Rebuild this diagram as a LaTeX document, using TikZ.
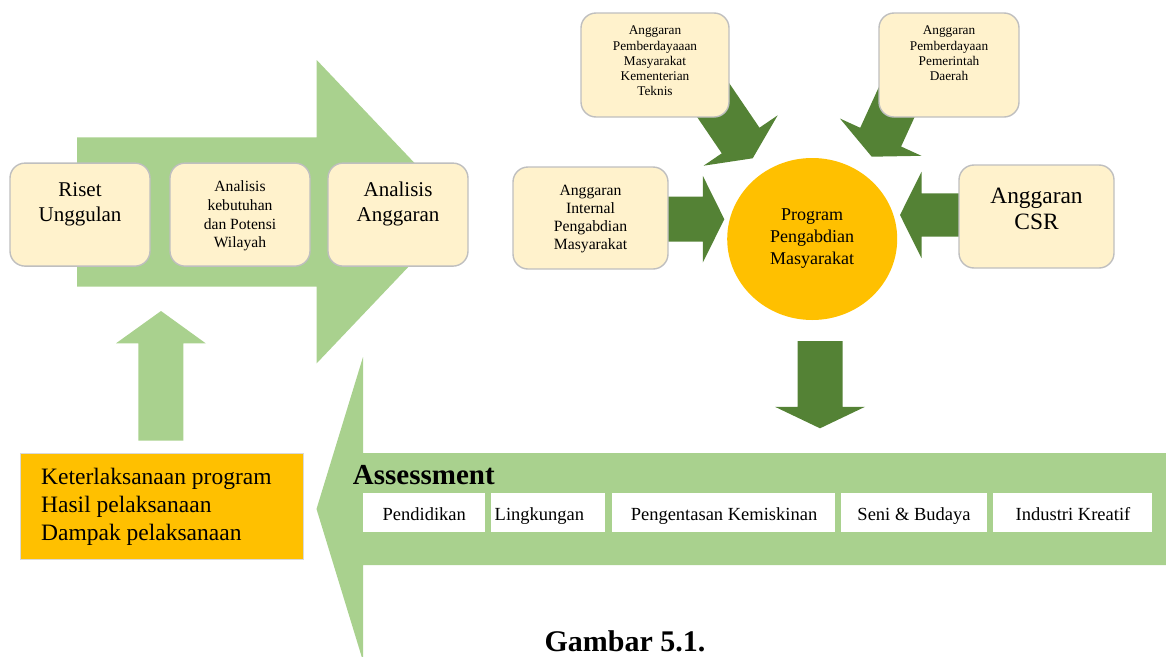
\documentclass[tikz,border=0pt]{standalone}
\usepackage{fontspec}
\setmainfont{Liberation Serif}
\usetikzlibrary{shapes.geometric}
\definecolor{lgreen}{HTML}{A9D18E}
\definecolor{dgreen}{HTML}{548235}
\definecolor{boxfill}{HTML}{FFF2CC}
\definecolor{boxline}{HTML}{BFBFBF}
\definecolor{amber}{HTML}{FFC000}
\definecolor{palegray}{HTML}{D9D9D9}
\newcommand\fsz[2]{\fontsize{#1}{#2}\selectfont}
% tip, angle, length, head half width, body half width
\newcommand\greenblock[5]{%
  \begin{scope}[shift={#1},rotate=#2]
    \fill[dgreen] (0,0) -- (-21.5,#4) -- (-21.5,#5) -- (-#3,#5) -- (-#3,-#5)
      -- (-21.5,-#5) -- (-21.5,-#4) -- cycle;
  \end{scope}}
\tikzset{
  rbox/.style={draw=boxline, line width=1.4pt, fill=boxfill, rounded corners=15pt, inner sep=0pt},
  wbox/.style={fill=white, inner sep=0pt, minimum height=39pt},
  txt/.style={align=center, inner sep=0pt, text=black},
}
\begin{document}
\begin{tikzpicture}[x=1pt,y=-1pt]
\useasboundingbox (0,0) rectangle (1166,656);
\clip (0,0) rectangle (1166,656);
% big light-green arrows
\fill[lgreen] (77,137.3) -- (316.7,137.3) -- (316.7,60) -- (460.8,211.7)
  -- (316.7,363.3) -- (316.7,286.7) -- (77,286.7) -- cycle;
\fill[lgreen] (1170,453) -- (363,453) -- (363,357) -- (316.5,509)
  -- (363,661) -- (363,565) -- (1170,565) -- cycle;
\fill[lgreen] (138.3,440.7) -- (138.3,343.3) -- (116,343.3) -- (161,311)
  -- (205.7,343.3) -- (183.3,343.3) -- (183.3,440.7) -- cycle;
% dark-green arrows
\greenblock{(752.7,158.3)}{-55.8}{100}{44.8}{22.8}
\greenblock{(871.7,156.7)}{-114.6}{100}{44.8}{22.5}
\greenblock{(724.3,219.2)}{0}{80}{43.4}{22.5}
\greenblock{(900,215)}{180}{80}{43.2}{21.7}
\greenblock{(820,428.3)}{-90}{87.3}{45}{22.5}
% top-left boxes
\node[rbox, minimum width=140pt, minimum height=103pt] (riset) at (80,214.6) {};
\node[rbox, minimum width=140pt, minimum height=103pt] (kebutuhan) at (240,214.6) {};
\node[rbox, minimum width=140pt, minimum height=103pt] (analisis) at (398,214.6) {};
\node[txt, font=\fsz{21}{25}] (risetT) at (80,204) {Riset\\Unggulan};
\node[txt, font=\fsz{15.6}{18.7}] (kebutuhanT) at (240,216) {Analisis\\kebutuhan\\dan Potensi\\Wilayah};
\node[txt, font=\fsz{21}{25}] (analisisT) at (398,204) {Analisis\\Anggaran};
% top-right boxes
\node[rbox, minimum width=148pt, minimum height=104pt] (kem) at (655,65) {};
\node[rbox, minimum width=140pt, minimum height=104pt] (pemda) at (949,65) {};
\node[rbox, minimum width=155pt, minimum height=102pt] (internal) at (590.5,218) {};
\node[rbox, minimum width=155pt, minimum height=103pt] (csr) at (1036.5,216.5) {};
\node[txt, font=\fsz{13.3}{15.3}] (kemT) at (655,61) {Anggaran\\Pemberdayaaan\\Masyarakat\\Kementerian\\Teknis};
\node[txt, font=\fsz{13.3}{15.3}] (pemdaT) at (949,53.5) {Anggaran\\Pemberdayaan\\Pemerintah\\Daerah};
\node[txt, font=\fsz{15.7}{18}] (internalT) at (590.5,219.5) {Anggaran\\Internal\\Pengabdian\\Masyarakat};
\node[txt, font=\fsz{23.4}{26}] (csrT) at (1036.5,209) {Anggaran\\CSR};
% central circle
\node[ellipse, fill=amber, minimum width=170pt, minimum height=162pt, inner sep=0pt,
  txt, font=\fsz{18}{22}] (prog) at (812.2,239) {Program\\Pengabdian\\Masyarakat};
% orange assessment result box
\node[draw=palegray, line width=1pt, fill=amber, minimum width=283pt, minimum height=106pt,
  inner sep=0pt] (hasil) at (161.5,506) {};
\node[anchor=west, align=left, inner sep=0pt, font=\fsz{23.5}{28}] (hasilT) at (41,507)
  {Keterlaksanaan program\\Hasil pelaksanaan\\Dampak pelaksanaan};
% assessment band
\node[anchor=base west, inner sep=0pt, font=\bfseries\fsz{29}{29}] (assess) at (352.7,484.3) {Assessment};
\node[wbox, minimum width=122.3pt] (pend) at (423.9,512.8) {};
\node[wbox, minimum width=114pt] (ling) at (548,512.5) {};
\node[wbox, minimum width=223pt] (peng) at (723.5,512.5) {};
\node[wbox, minimum width=146pt] (seni) at (914,512.5) {};
\node[wbox, minimum width=159pt] (indus) at (1072.5,512.5) {};
\node[anchor=base, inner sep=0pt, font=\fsz{18.5}{20}] (pendT) at (424.3,520) {Pendidikan};
\node[anchor=base west, inner sep=0pt, font=\fsz{18.5}{20}] (lingT) at (494.5,520) {Lingkungan};
\node[anchor=base, inner sep=0pt, font=\fsz{18.5}{20}] (pengT) at (724,520) {Pengentasan Kemiskinan};
\node[anchor=base, inner sep=0pt, font=\fsz{18.5}{20}] (seniT) at (914,520) {Seni \& Budaya};
\node[anchor=base, inner sep=0pt, font=\fsz{18.5}{20}] (indusT) at (1073,520) {Industri Kreatif};
% caption
\node[anchor=base, inner sep=0pt, font=\bfseries\fsz{30}{30}] (cap) at (625,651) {Gambar 5.1.};
\end{tikzpicture}
\end{document}
